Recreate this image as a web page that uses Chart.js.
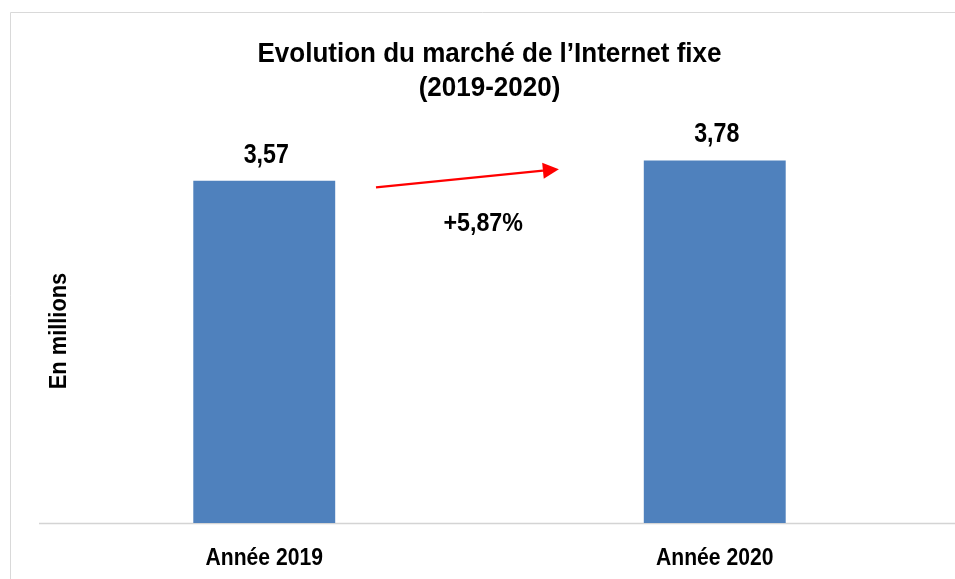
<!DOCTYPE html>
<html>
<head>
<meta charset="utf-8">
<script src="https://cdn.jsdelivr.net/npm/chart.js@4/dist/chart.umd.min.js"></script>
<style>
html,body{margin:0;padding:0;background:#fff;overflow:hidden;}
#wrap{width:955px;height:579px;position:relative;}
</style>
</head>
<body>
<div id="wrap"><canvas id="c" width="955" height="579"></canvas></div>
<script>
const categories = ['Année 2019', 'Année 2020'];
const values = [3.57, 3.78];
const valueLabels = ['3,57', '3,78'];
const growthLabel = '+5,87%';
const titleLines = ['Evolution du marché de l\u2019Internet fixe', '(2019-2020)'];
const yAxisTitle = 'En millions';

const FONT = '"Liberation Sans", Arial, sans-serif';

function drawText(ctx, text, x, y, size, sx, align) {
  ctx.save();
  ctx.font = 'bold ' + size + 'px ' + FONT;
  ctx.textBaseline = 'alphabetic';
  ctx.textAlign = 'left';
  const w = ctx.measureText(text).width * sx;
  let left = x;
  if (align === 'center') left = x - w / 2;
  ctx.translate(left, y);
  ctx.scale(sx, 1);
  ctx.fillText(text, 0, 0);
  ctx.restore();
}

const decor = {
  id: 'decor',
  beforeDraw(chart) {
    const ctx = chart.ctx;
    ctx.save();
    ctx.strokeStyle = '#d9d9d9';
    ctx.lineWidth = 1;
    ctx.beginPath();
    ctx.moveTo(10.5, 579);
    ctx.lineTo(10.5, 12.5);
    ctx.lineTo(955, 12.5);
    ctx.stroke();
    const a = chart.chartArea;
    ctx.strokeStyle = '#d4d4d4';
    ctx.lineWidth = 1.5;
    ctx.beginPath();
    ctx.moveTo(a.left, a.bottom + 0.5);
    ctx.lineTo(955, a.bottom + 0.5);
    ctx.stroke();
    ctx.restore();
  },
  afterDatasetsDraw(chart) {
    const ctx = chart.ctx;
    const x = chart.scales.x, y = chart.scales.y;
    const a = chart.chartArea;
    const cx = (a.left + a.right) / 2;
    ctx.save();
    ctx.fillStyle = '#000';
    // title
    ctx.font = 'bold 27px ' + FONT;
    const tScale = 464 / ctx.measureText(titleLines[0]).width;
    drawText(ctx, titleLines[0], cx, 62, 27, tScale, 'center');
    drawText(ctx, titleLines[1], cx, 96, 27, tScale, 'center');
    // value labels
    values.forEach((v, i) => {
      drawText(ctx, valueLabels[i], x.getPixelForValue(i) + 2, y.getPixelForValue(v) - 18, 27, 0.86, 'center');
    });
    // category labels
    categories.forEach((c, i) => {
      drawText(ctx, c, x.getPixelForValue(i), a.bottom + 42, 24, 0.88, 'center');
    });
    // growth label
    drawText(ctx, growthLabel, x.getPixelForValue(0.486), y.getPixelForValue(3.045), 25, 0.93, 'center');
    // arrow
    const x1 = x.getPixelForValue(0.248), y1 = y.getPixelForValue(3.50);
    const x2 = x.getPixelForValue(0.654), y2 = y.getPixelForValue(3.69);
    const ang = Math.atan2(y2 - y1, x2 - x1);
    const hl = 16, hw = 8;
    const bx = x2 - hl * Math.cos(ang), by = y2 - hl * Math.sin(ang);
    ctx.strokeStyle = '#ff0000';
    ctx.fillStyle = '#ff0000';
    ctx.lineWidth = 2.2;
    ctx.beginPath();
    ctx.moveTo(x1, y1);
    ctx.lineTo(bx, by);
    ctx.stroke();
    ctx.beginPath();
    ctx.moveTo(x2, y2);
    ctx.lineTo(bx + hw * Math.sin(ang), by - hw * Math.cos(ang));
    ctx.lineTo(bx - hw * Math.sin(ang), by + hw * Math.cos(ang));
    ctx.closePath();
    ctx.fill();
    // y axis title
    ctx.translate(66, 331);
    ctx.rotate(-Math.PI / 2);
    ctx.fillStyle = '#000';
    drawText(ctx, yAxisTitle, 0, 0, 24, 0.91, 'center');
    ctx.restore();
  }
};

new Chart(document.getElementById('c'), {
  type: 'bar',
  data: {
    labels: categories,
    datasets: [{
      data: values,
      backgroundColor: '#4f81bd',
      borderWidth: 0,
      categoryPercentage: 1,
      barPercentage: 0.315
    }]
  },
  options: {
    responsive: false,
    animation: false,
    devicePixelRatio: 1,
    layout: { padding: { left: 39, right: 15, top: 139.4, bottom: 56 } },
    plugins: {
      legend: { display: false },
      tooltip: { enabled: false },
      title: { display: false }
    },
    scales: {
      x: { display: false },
      y: { display: false, min: 0, max: 4 }
    }
  },
  plugins: [decor]
});
</script>
</body>
</html>
